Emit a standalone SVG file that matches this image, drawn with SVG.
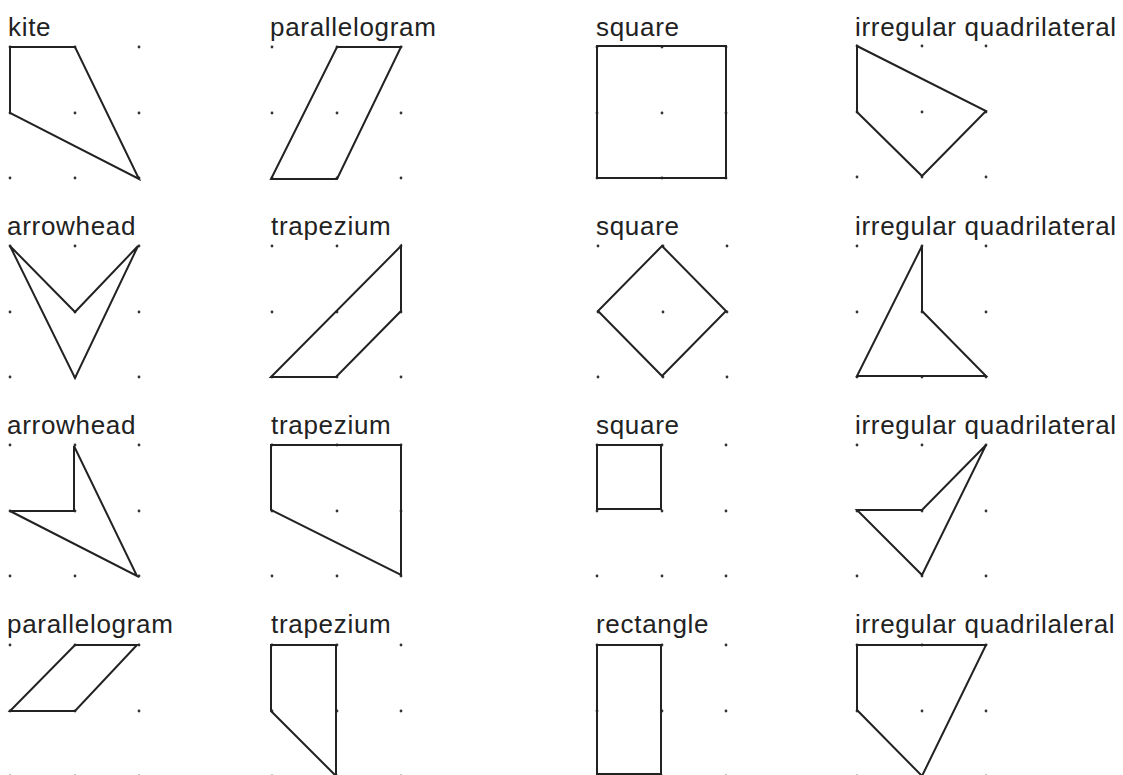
<svg xmlns="http://www.w3.org/2000/svg" width="1123" height="775" viewBox="0 0 1123 775">
<style>
text{font-family:"Liberation Sans",Arial,sans-serif;font-size:26px;letter-spacing:0.7px;fill:#222}
.s{fill:none;stroke:#222;stroke-width:2;stroke-linejoin:miter}
.d{fill:#333}
</style>
<defs>
<g id="grid">
<circle class="d" cx="0" cy="0" r="1.4"/><circle class="d" cx="65" cy="0" r="1.4"/><circle class="d" cx="129" cy="0" r="1.4"/>
<circle class="d" cx="0" cy="66" r="1.4"/><circle class="d" cx="65" cy="66" r="1.4"/><circle class="d" cx="129" cy="66" r="1.4"/>
<circle class="d" cx="0" cy="131" r="1.4"/><circle class="d" cx="65" cy="131" r="1.4"/><circle class="d" cx="129" cy="131" r="1.4"/>
</g>
</defs>
<rect width="1123" height="775" fill="#fff"/>

<g id="kite">
<use href="#grid" x="10" y="47"/>
<text x="8" y="36">kite</text>
<polygon class="s" points="10,47 75,47 139,179 10,113"/>
</g>
<g id="parallelogram1">
<use href="#grid" x="272" y="47"/>
<text x="270" y="36">parallelogram</text>
<polygon class="s" points="337,47 401,47 337,179 271,179"/>
</g>
<g id="square1">
<use href="#grid" x="597" y="47"/>
<text x="596" y="36">square</text>
<polygon class="s" points="597,46 726,46 726,178 597,178"/>
</g>
<g id="irregular1">
<use href="#grid" x="857" y="46"/>
<text x="855" y="36">irregular quadrilateral</text>
<polygon class="s" points="857,46 986,111 922,176 857,112"/>
</g>

<g id="arrowhead1">
<use href="#grid" x="10" y="246"/>
<text x="7" y="235">arrowhead</text>
<polygon class="s" points="10,246 75,312 138,246 75,378"/>
</g>
<g id="trapezium1">
<use href="#grid" x="272" y="246"/>
<text x="271" y="235">trapezium</text>
<polygon class="s" points="401,246 401,311 336,377 271,377"/>
</g>
<g id="square2">
<use href="#grid" x="598" y="246"/>
<text x="596" y="235">square</text>
<polygon class="s" points="662,246 726,311 662,376 598,311"/>
</g>
<g id="irregular2">
<use href="#grid" x="857" y="246"/>
<text x="855" y="235">irregular quadrilateral</text>
<polygon class="s" points="922,246 922,311 986,376 857,376"/>
</g>

<g id="arrowhead2">
<use href="#grid" x="10" y="445"/>
<text x="7" y="434">arrowhead</text>
<polygon class="s" points="74,446 137,576 10,511 74,511"/>
</g>
<g id="trapezium2">
<use href="#grid" x="272" y="445"/>
<text x="271" y="434">trapezium</text>
<polygon class="s" points="271,445 401,445 401,575 271,510"/>
</g>
<g id="square3">
<use href="#grid" x="597" y="445"/>
<text x="596" y="434">square</text>
<polygon class="s" points="597,445 661,445 661,509 597,509"/>
</g>
<g id="irregular3">
<use href="#grid" x="857" y="445"/>
<text x="855" y="434">irregular quadrilateral</text>
<polygon class="s" points="986,445 922,510 857,510 922,575"/>
</g>

<g id="parallelogram2">
<use href="#grid" x="10" y="645"/>
<text x="7" y="633">parallelogram</text>
<polygon class="s" points="75,645 137,645 75,711 10,711"/>
</g>
<g id="trapezium3">
<use href="#grid" x="272" y="645"/>
<text x="271" y="633">trapezium</text>
<polygon class="s" points="271,645 336,645 336,776 271,711"/>
</g>
<g id="rectangle">
<use href="#grid" x="597" y="645"/>
<text x="596" y="633">rectangle</text>
<polygon class="s" points="597,645 661,645 661,774 597,774"/>
</g>
<g id="irregular4">
<use href="#grid" x="857" y="645"/>
<text x="855" y="633">irregular quadrilaleral</text>
<polygon class="s" points="857,645 986,645 922,776 857,710"/>
</g>
<g id="connectors"/>
</svg>
